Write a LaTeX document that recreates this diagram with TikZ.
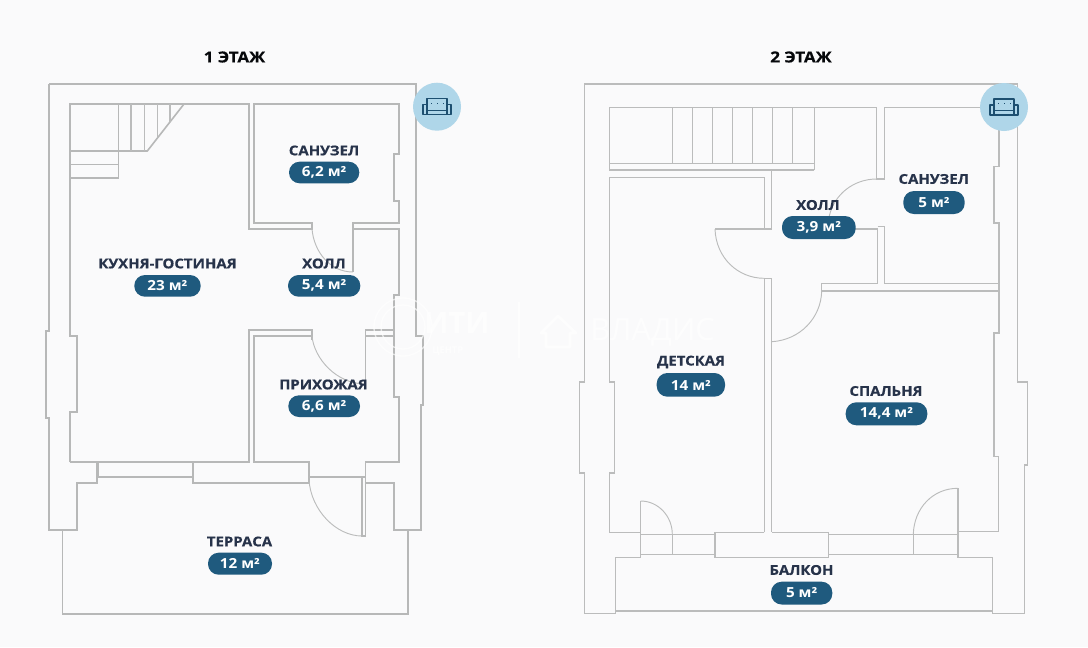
\documentclass[tikz,border=0pt]{standalone}
\usepackage{fontspec}
\setmainfont{Open Sans}
\usetikzlibrary{calc}
\definecolor{bgc}{HTML}{FAFAFB}
\definecolor{wallc}{HTML}{B7B8B8}
\definecolor{wallb}{HTML}{BBBCBC}
\definecolor{pillc}{HTML}{1F5A7E}
\definecolor{inkc}{HTML}{27334A}
\definecolor{badgec}{HTML}{AFD6E9}
\definecolor{sofac}{HTML}{1D4F70}
\tikzset{
  x=0.75pt,y=-0.75pt,
  wall/.style={draw=wallc,line width=1.2pt,line join=miter},
  wallthin/.style={draw=wallb,line width=1pt,line join=miter},
  doorarc/.style={draw=wallb,line width=0.7pt},
  roomlabel/.style={font=\fontsize{10.2}{12}\selectfont\bfseries\addfontfeature{FakeStretch=1.1,FakeBold=0.4},text=inkc,inner sep=0pt},
  titlelabel/.style={font=\fontsize{11.4}{12}\selectfont\bfseries\addfontfeature{FakeStretch=1.12,FakeBold=0.4},text=black!85!inkc,inner sep=0pt},
  pill/.style={fill=pillc,rounded corners=8pt,draw=none},
  pilltext/.style={font=\fontsize{10.4}{12}\selectfont\bfseries\addfontfeature{FakeStretch=1.1},text=white,inner sep=0pt},
  badge/.style={circle,fill=badgec,draw=none,minimum size=36pt,inner sep=0pt},
  watermark/.style={text=white,opacity=0.65,inner sep=0pt},
  wmline/.style={draw=white,opacity=0.65},
}
\newcommand{\sofaicon}[2]{%
  \begin{scope}[shift={(#1,#2)},draw=sofac,line width=0.8pt,line join=round]
    \draw (-10,-1) -- (-10,-8) -- (10,-8) -- (10,-1);
    \draw (-14,-2) rectangle (-10,8);
    \draw (10,-2) rectangle (14,8);
    \draw (-14,8) -- (14,8);
    \draw (-10,3.5) -- (10,3.5);
    \draw[line width=0.6pt,dash pattern=on 1pt off 3.5pt] (-6,-3.5) -- (7,-3.5);
  \end{scope}}
\begin{document}
\begin{tikzpicture}
\useasboundingbox (0,0) rectangle (1088,647);
\fill[bgc] (0,0) rectangle (1088,647);

% ---------- FLOOR 1 ----------
\draw[wall] (49,84) -- (416,84) -- (416,336) -- (423,336) -- (423,405) -- (420.7,405) -- (420.7,530) -- (394,530) -- (394,483) -- (365.5,483);
\draw[wall] (49,84) -- (49,331) -- (46,331) -- (46,418) -- (49,418) -- (49,530) -- (76.7,530) -- (76.7,483) -- (97,483) -- (97,462);
\draw[wall] (70,462) -- (70,412) -- (77,412) -- (77,336) -- (70,336) -- (70,104) -- (249,104) -- (249,229) -- (312,229) -- (312,223) -- (254,223) -- (254,104) -- (399,104) -- (399,154) -- (394,154) -- (394,201) -- (399,201) -- (399,223) -- (353,223) -- (353,272);
\draw[wall] (353,229) -- (399,229) -- (399,295) -- (394,295) -- (394,397) -- (399,397) -- (399,462) -- (365.5,462) -- (365.5,477);
\draw[wall] (365.5,384) -- (365.5,330) -- (394,330);
\draw[wall] (365.5,336) -- (394,336);
\draw[wall] (312,336) -- (254,336) -- (254,462) -- (309,462) -- (309,483) -- (193,483) -- (193,462);
\draw[wall] (70,462) -- (249,462) -- (249,330) -- (312,330) -- (312,340);
% terrace
\draw[wall] (62.3,530) -- (62.3,613.7) -- (407.7,613.7) -- (407.7,530);
% window and entry
\draw[wall] (98.5,462) -- (98.5,477) -- (193,477);
\draw[wall] (309,477) -- (365.5,477) -- (365.5,536) -- (362,536) -- (362,477);
% door swings
\draw[doorarc] (312,229) .. controls (314,252) and (330,272) .. (353,272);
\draw[doorarc] (312,336) .. controls (314,358) and (336,384) .. (365.5,384);
\draw[doorarc] (309,480) .. controls (311,510) and (336,536) .. (362,536);
% stairs
\draw[wall] (118.3,104) -- (118.3,178) -- (70,178);
\draw[wall] (70,151) -- (147.3,151) -- (184,104);
\draw[wall] (70,164.3) -- (118.3,164.3);
\draw[wallthin] (131,104) -- (131,151);
\draw[wallthin] (144.3,104) -- (144.3,151);
\draw[wallthin] (157.3,104) -- (157.3,136.5);
\draw[wallthin] (170,104) -- (170,121.8);

% ---------- FLOOR 2 ----------
\draw[wallthin] (584.3,84) -- (1017.7,84) -- (1017.7,382) -- (1027.7,382) -- (1027.7,465) -- (1024.3,465) -- (1024.3,613.3) -- (992.7,613.3) -- (992.7,557.7) -- (958,557.7) -- (958,488.3);
\draw[wallthin] (584.3,84) -- (584.3,382) -- (579.3,382) -- (579.3,473) -- (584.3,473) -- (584.3,613.3) -- (615.7,613.3) -- (615.7,557.3) -- (640.7,557.3) -- (640.7,501);
\draw[wallthin] (640.7,532.3) -- (609.3,532.3) -- (609.3,473) -- (614.3,473) -- (614.3,382) -- (609.3,382) -- (609.3,177.3) -- (764.3,177.3) -- (764.3,229) -- (771.7,229) -- (771.7,170);
% balcony
\draw[wallthin] (615.7,611) -- (992.7,611);
% stair block
\draw[wallthin] (814.3,170) -- (609.3,170) -- (609.3,107.7) -- (876.7,107.7) -- (876.7,179) -- (884.3,179) -- (884.3,107.7) -- (999,107.7) -- (999,166.7) -- (994,166.7) -- (994,223) -- (999,223) -- (999,333) -- (994,333) -- (994,456.7) -- (998.7,456.7) -- (998.7,531.7) -- (958,531.7);
\draw[wallthin] (609.3,163.3) -- (814.3,163.3) -- (814.3,170);
\draw[wallthin] (814.3,107.7) -- (814.3,163.3);
\foreach \sx in {672.7,692.7,712.7,732.7,752.7,772.7,792.7}{\draw[wallthin] (\sx,107.7) -- (\sx,163.3);}
% inner partitions
\draw[wallthin] (715,229) -- (764.3,229);
\draw[wallthin] (764.3,532.3) -- (764.3,278.3) -- (771.7,278.3) -- (771.7,532.3);
\draw[wallthin] (829,229) -- (877.7,229) -- (877.7,283.3) -- (821.7,283.3) -- (821.7,291) -- (999,291);
\draw[wallthin] (877.7,226.7) -- (884.3,226.7) -- (884.3,283.3) -- (999,283.3);
% balcony front with doors
\draw[wallthin] (640.7,534.3) -- (715,534.3);
\draw[wallthin] (640.7,554.3) -- (715,554.3);
\draw[wallthin] (672.3,534.3) -- (672.3,554.3);
\draw[wallthin] (764.3,532.3) -- (715,532.3) -- (715,557.3) -- (828.3,557.3) -- (828.3,532.3) -- (771.7,532.3);
\draw[wallthin] (828.3,534.3) -- (958,534.3);
\draw[wallthin] (828.3,554.3) -- (958,554.3);
\draw[wallthin] (913.3,534.3) -- (913.3,554.3);
% door swings
\draw[doorarc] (715,229) .. controls (716,258) and (738,278.3) .. (764.3,278.3);
\draw[doorarc] (876.7,179) .. controls (853,179) and (834,195) .. (829.3,216);
\draw[doorarc] (821.7,291) .. controls (821,318) and (800,340) .. (771.7,341.7);
\draw[doorarc] (640.7,501) .. controls (658,501) and (672.3,516) .. (672.3,534.3);
\draw[doorarc] (913.3,534.3) .. controls (914,508) and (933,488.3) .. (957.7,488.3);

% ---------- watermark ----------
\draw[wmline,line width=1pt] (403,327) circle (29);
\draw[wmline,line width=1pt] (403,327) circle (22);
\node[watermark,font=\fontsize{22}{22}\selectfont\bfseries,anchor=west] (wmiti) at (424,323) {ИТИ};
\node[watermark,font=\fontsize{7}{7}\selectfont\bfseries,anchor=west] (wmcentr) at (432,351) {ЦЕНТР};
\draw[wmline,line width=1pt] (519,302) -- (519,358);
\node[watermark,font=\fontsize{23}{23}\selectfont,anchor=west] (wmvladis) at (590,332) {ВЛАДИС};
\draw[wmline,line width=2pt,line join=round] (541,333) -- (558,316) -- (576,333) -- (570,333) -- (570,347) -- (546,347) -- (546,333) -- cycle;

% ---------- badges ----------
\node[badge] (badgea) at (437,106.7) {};
\node[badge] (badgeb) at (1004,107) {};
\sofaicon{437}{106.7}
\sofaicon{1004}{107}

% ---------- titles ----------
\node[titlelabel] (titlea) at (234.5,57) {1 ЭТАЖ};
\node[titlelabel] (titleb) at (801,57) {2 ЭТАЖ};

% ---------- room labels ----------
\node[roomlabel] (lkitchen) at (167.5,263.5) {КУХНЯ-ГОСТИНАЯ};
\fill[pill] (134.3,275) rectangle (200.7,296.7);
\node[pilltext] (akitchen) at (167.5,285.5) {23 м²};
\node[roomlabel] (lbath) at (324,150.5) {САНУЗЕЛ};
\fill[pill] (289,161.7) rectangle (359.3,183.3);
\node[pilltext] (abath) at (324.2,172.2) {6,2 м²};
\node[roomlabel] (lhall) at (324,263.5) {ХОЛЛ};
\fill[pill] (288,275) rectangle (360.3,296.7);
\node[pilltext] (ahall) at (324.2,285.5) {5,4 м²};
\node[roomlabel] (lentry) at (323.5,384.5) {ПРИХОЖАЯ};
\fill[pill] (288.3,395.3) rectangle (360,417);
\node[pilltext] (aentry) at (324.2,406) {6,6 м²};
\node[roomlabel] (lterrace) at (239.5,541.5) {ТЕРРАСА};
\fill[pill] (208,552.7) rectangle (272,574.7);
\node[pilltext] (aterrace) at (240,563.5) {12 м²};
\node[roomlabel] (lchild) at (691,362) {ДЕТСКАЯ};
\fill[pill] (656.7,373) rectangle (725,396.7);
\node[pilltext] (achild) at (691,385) {14 м²};
\node[roomlabel] (lbed) at (886,391) {СПАЛЬНЯ};
\fill[pill] (845.7,402.3) rectangle (927.3,425.3);
\node[pilltext] (abed) at (886.5,413.7) {14,4 м²};
\node[roomlabel] (lbalc) at (801.5,570) {БАЛКОН};
\fill[pill] (771,581.7) rectangle (832.3,604.5);
\node[pilltext] (abalc) at (801.7,593) {5 м²};
\node[roomlabel] (lhall2) at (818,205) {ХОЛЛ};
\fill[pill] (782,216) rectangle (855.7,239);
\node[pilltext] (ahall2) at (818.8,227.5) {3,9 м²};
\node[roomlabel] (lbath2) at (933.7,179) {САНУЗЕЛ};
\fill[pill] (903.3,191) rectangle (964.7,214);
\node[pilltext] (abath2) at (934,202.5) {5 м²};
\end{tikzpicture}
\end{document}
